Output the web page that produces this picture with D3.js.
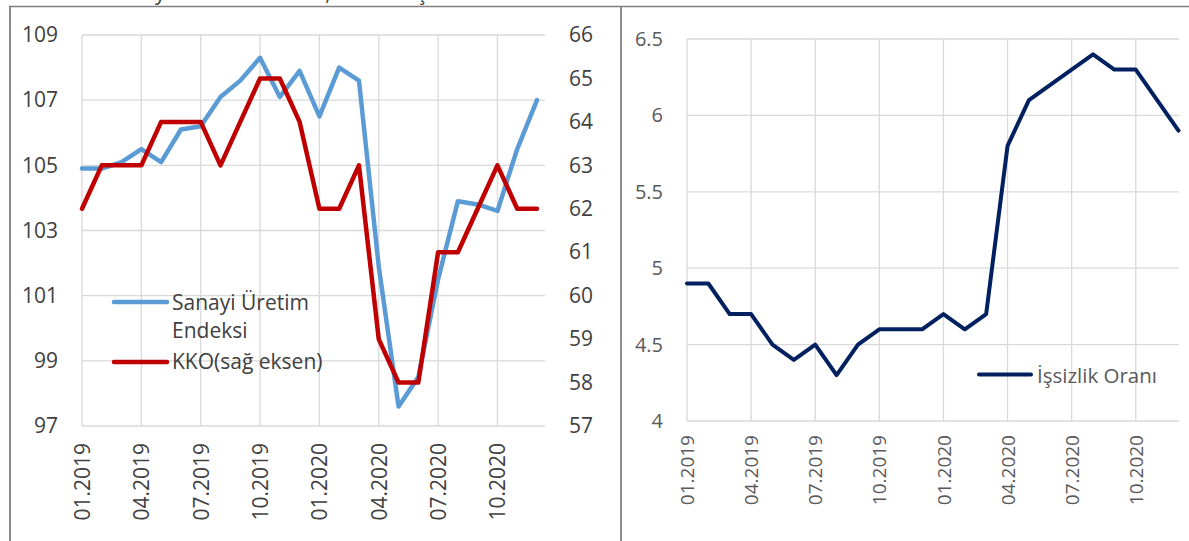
<!DOCTYPE html>
<html>
<head>
<meta charset="utf-8">
<script src="https://cdn.jsdelivr.net/npm/d3@7"></script>
<style>
  body { margin: 0; background: #fff; }
  svg { display: block; font-family: "Open Sans", sans-serif; }
</style>
</head>
<body>
<div id="chart"></div>
<script>
// months shown on both panels
const months = [
  "01.2019", "02.2019", "03.2019", "04.2019", "05.2019", "06.2019",
  "07.2019", "08.2019", "09.2019", "10.2019", "11.2019", "12.2019",
  "01.2020", "02.2020", "03.2020", "04.2020", "05.2020", "06.2020",
  "07.2020", "08.2020", "09.2020", "10.2020", "11.2020", "12.2020"
];
const monthTicks = ["01.2019", "04.2019", "07.2019", "10.2019", "01.2020", "04.2020", "07.2020", "10.2020"];

// left panel
const sanayi = [104.9, 104.9, 105.1, 105.5, 105.1, 106.1, 106.2, 107.1, 107.6, 108.3, 107.1, 107.9,
                106.5, 108.0, 107.6, 101.9, 97.6, 98.5, 101.5, 103.9, 103.8, 103.6, 105.5, 107.0];
const kko = [62, 63, 63, 63, 64, 64, 64, 63, 64, 65, 65, 64,
             62, 62, 63, 59, 58, 58, 61, 61, 62, 63, 62, 62];
const leftTicks = [97, 99, 101, 103, 105, 107, 109];
const rightTicks = [57, 58, 59, 60, 61, 62, 63, 64, 65, 66];

// right panel
const issizlik = [4.9, 4.9, 4.7, 4.7, 4.5, 4.4, 4.5, 4.3, 4.5, 4.6, 4.6, 4.6,
                  4.7, 4.6, 4.7, 5.8, 6.1, 6.2, 6.3, 6.4, 6.3, 6.3, 6.1, 5.9];
const unempTicks = [4, 4.5, 5, 5.5, 6, 6.5];

const W = 1189, H = 541;
const svg = d3.select("#chart").append("svg").attr("width", W).attr("height", H);

const gridColor = "#d9d9d9";

// caption above the panels (cut off at the top)
svg.append("text")
  .attr("x", 20).attr("y", 0)
  .attr("fill", "#404040")
  .style("font-size", "21px")
  .text("Grafik 1: Sanayi Üretim Endeksi, KKO ve İşsizlik Oranı");

// frame
svg.append("line").attr("x1", 9).attr("x2", W).attr("y1", 6.5).attr("y2", 6.5)
  .attr("stroke", "#808080").attr("stroke-width", 1.6);
[10, 621].forEach(x => {
  svg.append("line").attr("x1", x).attr("x2", x).attr("y1", 6).attr("y2", H)
    .attr("stroke", "#808080").attr("stroke-width", 1.8);
});

// ---------- left panel ----------
const xL = d3.scalePoint().domain(months).range([82, 537]);
const yL = d3.scaleLinear().domain([97, 109]).range([426, 35]);
const yR = d3.scaleLinear().domain([57, 66]).range([426, 35]);
const leftEdge = 82, rightEdge = 545;

const gL = svg.append("g");

gL.selectAll(".hgrid").data(leftTicks).enter().append("line")
  .attr("x1", leftEdge).attr("x2", rightEdge)
  .attr("y1", d => yL(d)).attr("y2", d => yL(d))
  .attr("stroke", gridColor).attr("stroke-width", 1.3);

gL.selectAll(".vgrid").data(monthTicks).enter().append("line")
  .attr("x1", d => xL(d)).attr("x2", d => xL(d))
  .attr("y1", yL(109)).attr("y2", yL(97))
  .attr("stroke", gridColor).attr("stroke-width", 1.3);

function styleAxis(g, color, size) {
  g.select(".domain").remove();
  g.selectAll("line").remove();
  g.selectAll("text").attr("fill", color).style("font-size", size + "px")
    .style("font-family", "'Open Sans', sans-serif");
}

gL.append("g")
  .attr("transform", `translate(${leftEdge},0)`)
  .call(d3.axisLeft(yL).tickValues(leftTicks).tickSize(0).tickPadding(24))
  .call(g => styleAxis(g, "#404040", 21));

gL.append("g")
  .attr("transform", `translate(${rightEdge},0)`)
  .call(d3.axisRight(yR).tickValues(rightTicks).tickSize(0).tickPadding(24))
  .call(g => styleAxis(g, "#404040", 21));

gL.append("g")
  .attr("transform", `translate(0,${yL(97)})`)
  .call(d3.axisBottom(xL).tickValues(monthTicks).tickSize(0))
  .call(g => styleAxis(g, "#404040", 21))
  .call(g => g.selectAll("text")
    .attr("transform", "rotate(-90)")
    .attr("x", -17).attr("y", 0).attr("dy", "0.35em")
    .attr("text-anchor", "end"));

const lineL = d3.line().x((d, i) => xL(months[i])).y(d => yL(d));
const lineR = d3.line().x((d, i) => xL(months[i])).y(d => yR(d));

gL.append("path").datum(sanayi)
  .attr("d", lineL).attr("fill", "none")
  .attr("stroke", "#5b9bd5").attr("stroke-width", 4.5)
  .attr("stroke-linejoin", "round").attr("stroke-linecap", "round");

gL.append("path").datum(kko)
  .attr("d", lineR).attr("fill", "none")
  .attr("stroke", "#c00000").attr("stroke-width", 4.5)
  .attr("stroke-linejoin", "round").attr("stroke-linecap", "round");

// legend
const legL = gL.append("g");
legL.append("line").attr("x1", 114).attr("x2", 167).attr("y1", 302).attr("y2", 302)
  .attr("stroke", "#5b9bd5").attr("stroke-width", 4.5).attr("stroke-linecap", "round");
legL.append("text").attr("x", 172).attr("y", 310).attr("fill", "#404040")
  .style("font-size", "21px").text("Sanayi Üretim");
legL.append("text").attr("x", 172).attr("y", 338).attr("fill", "#404040")
  .style("font-size", "21px").text("Endeksi");
legL.append("line").attr("x1", 114).attr("x2", 167).attr("y1", 362).attr("y2", 362)
  .attr("stroke", "#c00000").attr("stroke-width", 4.5).attr("stroke-linecap", "round");
legL.append("text").attr("x", 172).attr("y", 369).attr("fill", "#404040")
  .style("font-size", "21px").text("KKO(sağ eksen)");

// ---------- right panel ----------
const xU = d3.scalePoint().domain(months).range([687, 1178.5]);
const yU = d3.scaleLinear().domain([4, 6.5]).range([421, 39]);
const uLeft = 687, uRight = 1179;

const gR = svg.append("g");

gR.selectAll(".hgrid").data(unempTicks).enter().append("line")
  .attr("x1", uLeft).attr("x2", uRight)
  .attr("y1", d => yU(d)).attr("y2", d => yU(d))
  .attr("stroke", gridColor).attr("stroke-width", 1.3);

gR.selectAll(".vgrid").data(monthTicks).enter().append("line")
  .attr("x1", d => xU(d)).attr("x2", d => xU(d))
  .attr("y1", yU(6.5)).attr("y2", yU(4))
  .attr("stroke", gridColor).attr("stroke-width", 1.3);

gR.append("g")
  .attr("transform", `translate(${uLeft},0)`)
  .call(d3.axisLeft(yU).tickValues(unempTicks).tickSize(0).tickPadding(24).tickFormat(d => String(d)))
  .call(g => styleAxis(g, "#595959", 20));

gR.append("g")
  .attr("transform", `translate(0,${yU(4)})`)
  .call(d3.axisBottom(xU).tickValues(monthTicks).tickSize(0))
  .call(g => styleAxis(g, "#595959", 19))
  .call(g => g.selectAll("text")
    .attr("transform", "rotate(-90)")
    .attr("x", -14).attr("y", 0).attr("dy", "0.35em")
    .attr("text-anchor", "end"));

const lineU = d3.line().x((d, i) => xU(months[i])).y(d => yU(d));
gR.append("path").datum(issizlik)
  .attr("d", lineU).attr("fill", "none")
  .attr("stroke", "#002060").attr("stroke-width", 4)
  .attr("stroke-linejoin", "round").attr("stroke-linecap", "round");

const legR = gR.append("g");
legR.append("line").attr("x1", 979).attr("x2", 1031).attr("y1", 374.5).attr("y2", 374.5)
  .attr("stroke", "#002060").attr("stroke-width", 4).attr("stroke-linecap", "round");
legR.append("text").attr("x", 1037).attr("y", 382.5).attr("fill", "#595959")
  .style("font-size", "20.5px").text("İşsizlik Oranı");
</script>
</body>
</html>
